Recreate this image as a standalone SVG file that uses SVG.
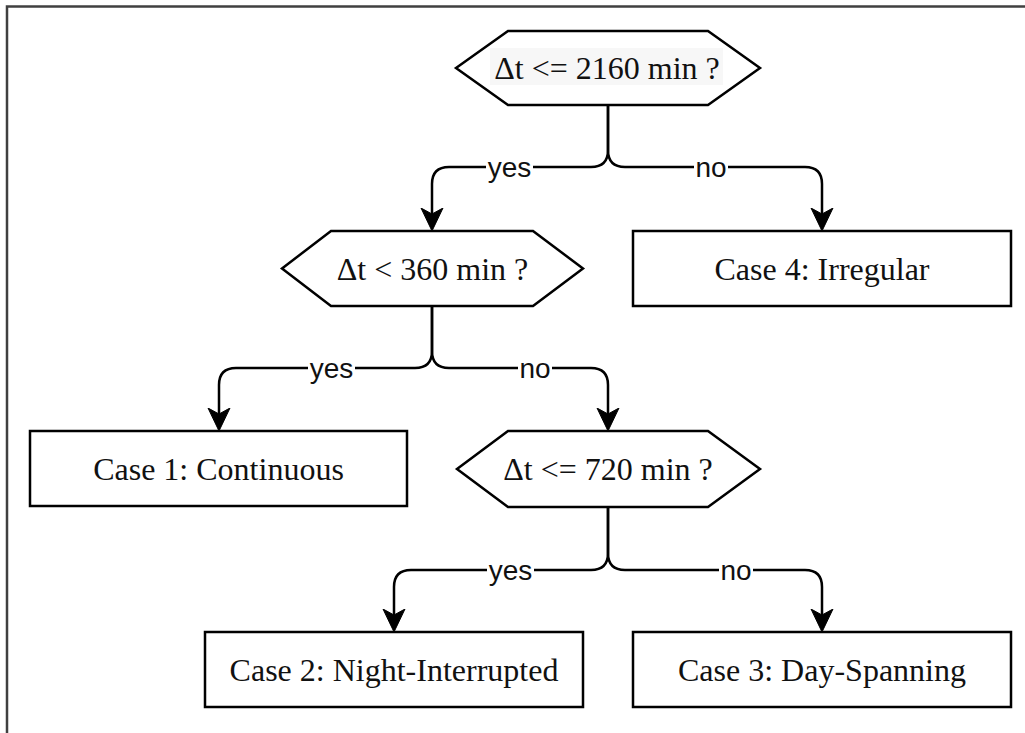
<svg xmlns="http://www.w3.org/2000/svg" width="1025" height="733" viewBox="0 0 1025 733">
  <style>
    .shape { fill: #ffffff; stroke: #000000; stroke-width: 2.5; }
    .node-text { font-family: "Liberation Serif", "Times New Roman", serif; font-size: 32px; fill: #111111; text-anchor: middle; }
    .edge { fill: none; stroke: #000000; stroke-width: 2.5; stroke-linejoin: round; }
    .edge-label { font-family: "Liberation Sans", Arial, sans-serif; font-size: 28px; fill: #111111; text-anchor: middle; }
    .label-bg { fill: #ffffff; }
  </style>
  <defs>
    <marker id="arrow" viewBox="0 -12 24 24" refX="6" refY="0" markerWidth="24" markerHeight="24" markerUnits="userSpaceOnUse" orient="auto">
      <path d="M0,-11 L23,0 L0,11 L6,0 Z" fill="#000000" stroke="#000000" stroke-width="1" stroke-linejoin="miter"/>
    </marker>
  </defs>

  <rect width="1025" height="733" fill="#ffffff"/>
  <!-- frame -->
  <path d="M7,733 V6.5 H1025" fill="none" stroke="#404040" stroke-width="2.5"/>

  <!-- connectors -->
  <g id="connectors">
    <path class="edge" d="M608,105 V150 Q608,167 591,167 H449 Q432,167 432,184 V214" marker-end="url(#arrow)"/>
    <path class="edge" d="M608,105 V150 Q608,167 625,167 H805 Q822,167 822,184 V214" marker-end="url(#arrow)"/>
    <path class="edge" d="M432,306 V351 Q432,368 415,368 H236 Q219,368 219,385 V414" marker-end="url(#arrow)"/>
    <path class="edge" d="M432,306 V351 Q432,368 449,368 H591 Q608,368 608,385 V414" marker-end="url(#arrow)"/>
    <path class="edge" d="M608,507 V553 Q608,570 591,570 H411 Q394,570 394,587 V615" marker-end="url(#arrow)"/>
    <path class="edge" d="M608,507 V553 Q608,570 625,570 H805 Q822,570 822,587 V615" marker-end="url(#arrow)"/>

    <rect class="label-bg" x="486" y="157" width="47" height="20"/>
    <text class="edge-label" x="509.5" y="177">yes</text>
    <rect class="label-bg" x="694" y="157" width="34" height="20"/>
    <text class="edge-label" x="711" y="177">no</text>

    <rect class="label-bg" x="308" y="358" width="47" height="20"/>
    <text class="edge-label" x="331.5" y="378">yes</text>
    <rect class="label-bg" x="518" y="358" width="34" height="20"/>
    <text class="edge-label" x="535" y="378">no</text>

    <rect class="label-bg" x="487" y="560" width="47" height="20"/>
    <text class="edge-label" x="510.5" y="580">yes</text>
    <rect class="label-bg" x="719" y="560" width="34" height="20"/>
    <text class="edge-label" x="736" y="580">no</text>
  </g>

  <!-- decisions -->
  <g id="decision-2160">
    <polygon class="shape" points="456,68 508,31 708,31 760,68 708,105 508,105"/>
    <rect x="490" y="48" width="233" height="37" fill="#f7f7f7"/>
    <text class="node-text" x="607" y="79">Δt &lt;= 2160 min ?</text>
  </g>
  <g id="decision-360">
    <polygon class="shape" points="282,268.5 331,231 533,231 583,268.5 533,306 331,306"/>
    <text class="node-text" x="432.5" y="280">Δt &lt; 360 min ?</text>
  </g>
  <g id="decision-720">
    <polygon class="shape" points="457,469 508,431 708,431 760,469 708,507 508,507"/>
    <text class="node-text" x="608" y="480">Δt &lt;= 720 min ?</text>
  </g>

  <!-- outcomes -->
  <g id="case-4">
    <rect class="shape" x="633" y="231" width="378" height="75"/>
    <text class="node-text" x="822" y="280">Case 4: Irregular</text>
  </g>
  <g id="case-1">
    <rect class="shape" x="30" y="431" width="377" height="75"/>
    <text class="node-text" x="218.5" y="480">Case 1: Continuous</text>
  </g>
  <g id="case-2">
    <rect class="shape" x="205" y="632" width="378" height="75"/>
    <text class="node-text" x="394" y="681">Case 2: Night-Interrupted</text>
  </g>
  <g id="case-3">
    <rect class="shape" x="633" y="632" width="378" height="75"/>
    <text class="node-text" x="822" y="681">Case 3: Day-Spanning</text>
  </g>
</svg>
